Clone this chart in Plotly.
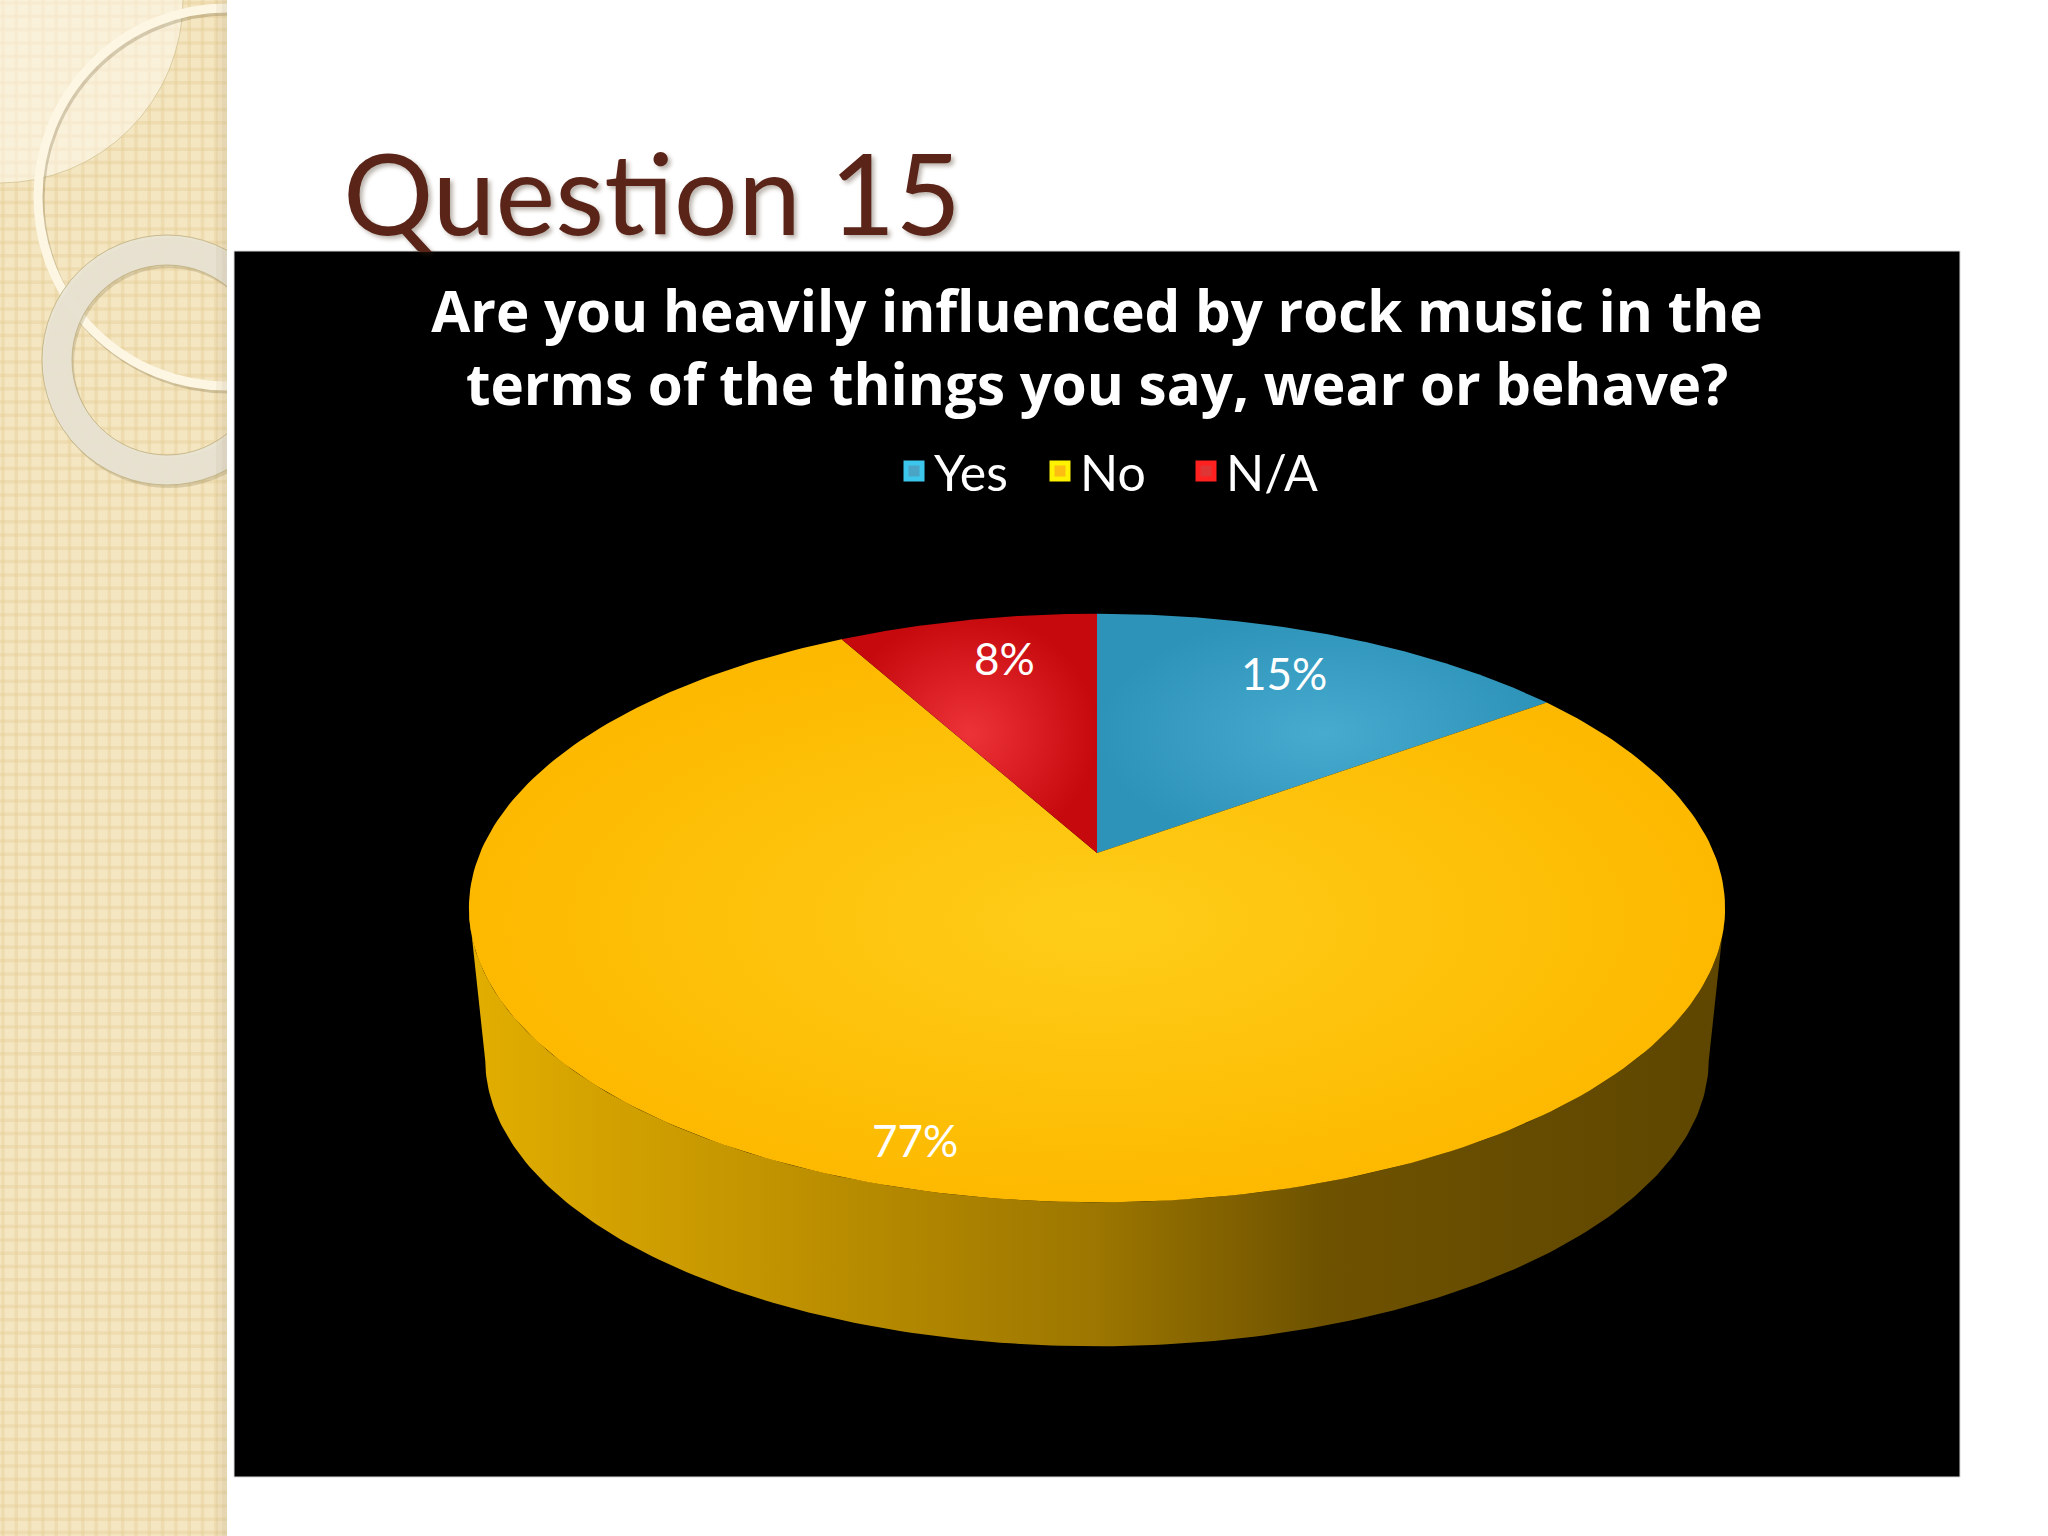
import numpy as np
import plotly.graph_objects as go

# ---- data -----------------------------------------------------------------
categories = ["Yes", "No", "N/A"]
values = [15, 77, 8]
slide_title = "Question 15"
chart_title = "Are you heavily influenced by rock music in the<br>terms of the things you say, wear or behave?"

# ---- style ----------------------------------------------------------------
FONT = "Lato"
legend_inner = ["#4aa4c6", "#fdbd12", "#e03535"]
legend_outer = ["#3cc6ec", "#fff200", "#ff2020"]
slice_center = ["#47abd0", "#fecd18", "#ee3338"]
slice_edge = ["#2e93b8", "#fdb900", "#c5090d"]
label_nudge = [(-5, -6), (-50, 16), (11, -9)]

# perspective pie geometry (paper pixels)
CX, CY, RX, RY, P = 1097, 853, 617, 284, 0.187
DEPTH, BASE_SCALE = 153, 0.974


def project(theta_deg, scale=1.0, shift=0.0, r=1.0):
    t = np.radians(theta_deg)
    w = 1 + P * np.cos(t)
    return (CX + scale * r * RX * np.sin(t) / w,
            CY + shift - scale * r * RY * np.cos(t) / w)


share = np.array(values, dtype=float) / sum(values) * 360
ends = np.cumsum(share)
starts = ends - share

fig = go.Figure()

# side wall of the pie
side_t = np.linspace(101, 259, 200)
tx, ty = project(side_t)
bx, by = project(side_t[::-1], BASE_SCALE, DEPTH)
fig.add_trace(go.Scatter(
    x=np.r_[tx, bx], y=np.r_[ty, by], mode="lines", fill="toself",
    line=dict(width=0, color="#a07800"), showlegend=False, hoverinfo="skip",
    fillgradient=dict(type="horizontal", colorscale=[
        [0, "#e2ae00"], [0.25, "#c09200"], [0.5, "#9c7600"],
        [0.68, "#6e5200"], [1, "#5e4600"]]),
))

# top slices, computed from the values
for i, name in enumerate(categories):
    t = np.linspace(starts[i], ends[i], 240)
    x, y = project(t)
    fig.add_trace(go.Scatter(
        x=np.r_[CX, x, CX], y=np.r_[CY, y, CY], mode="lines", fill="toself",
        line=dict(width=0, color=slice_edge[i]), showlegend=False, hoverinfo="skip",
        fillgradient=dict(type="radial", colorscale=[[0, slice_center[i]], [1, slice_edge[i]]]),
    ))

# legend entries
for i, name in enumerate(categories):
    fig.add_trace(go.Scatter(
        x=[None], y=[None], name=name, mode="markers",
        marker=dict(symbol="square", size=22, color=legend_inner[i],
                    line=dict(width=5, color=legend_outer[i])),
    ))

# percentage labels placed from slice mid-angles
annotations = []
for i, v in enumerate(values):
    mx, my = project((starts[i] + ends[i]) / 2, r=0.8)
    annotations.append(dict(
        x=mx + label_nudge[i][0], y=my + label_nudge[i][1],
        xref="x", yref="y", text=f"{v}%", showarrow=False,
        font=dict(family=FONT, size=44, color="white")))

annotations.append(dict(
    x=341, y=191, xref="x", yref="y", xanchor="left", yanchor="middle",
    text=slide_title, showarrow=False,
    font=dict(family=FONT, size=113, color="#5a2418",
              shadow="3px 3px 4px rgba(60,40,20,0.35)")))

# ---- slide decoration -------------------------------------------------------
STRIP = 227
shapes = [dict(type="rect", x0=0, x1=STRIP, y0=0, y1=1536,
               fillcolor="#f4e6c1", line_width=0)]
for k in np.arange(3, 1536, 13.3):
    shapes.append(dict(type="line", x0=0, x1=STRIP, y0=k, y1=k,
                       line=dict(color="rgba(226,200,140,0.3)", width=3.5)))
for k in np.arange(3, STRIP, 13.3):
    shapes.append(dict(type="line", x0=k, x1=k, y0=0, y1=1536,
                       line=dict(color="rgba(226,200,140,0.3)", width=3.5)))


def circle(cx, cy, r, **kw):
    return dict(type="circle", x0=cx - r, x1=cx + r, y0=cy - r, y1=cy + r, **kw)


shapes += [
    circle(0, 0, 183, fillcolor="rgba(255,250,238,0.55)",
           line=dict(color="rgba(205,190,140,0.7)", width=1)),
    circle(229, 200, 189, line=dict(color="rgba(120,100,60,0.28)", width=9)),
    circle(227, 197, 189, line=dict(color="#fdf6e3", width=9)),
    circle(169, 363, 110, line=dict(color="rgba(120,100,60,0.22)", width=30)),
    circle(167, 360, 110, line=dict(color="rgba(232,227,212,0.93)", width=30)),
    circle(167, 360, 125, line=dict(color="rgba(190,175,125,0.8)", width=1)),
    circle(167, 360, 95, line=dict(color="rgba(190,175,125,0.8)", width=1)),
    dict(type="rect", x0=216, x1=222, y0=0, y1=1536,
         fillcolor="rgba(150,130,90,0.07)", line_width=0),
    dict(type="rect", x0=222, x1=STRIP, y0=0, y1=1536,
         fillcolor="rgba(150,130,90,0.14)", line_width=0),
    dict(type="rect", x0=STRIP, x1=2048, y0=0, y1=1536,
         fillcolor="white", line_width=0),
    dict(type="rect", x0=234, x1=1960, y0=251, y1=1477,
         fillcolor="black", line=dict(color="#d8d8d8", width=1)),
]
for s in shapes:
    s["layer"] = "below"

fig.update_layout(
    width=2048, height=1536, margin=dict(l=0, r=0, t=0, b=0),
    paper_bgcolor="white", plot_bgcolor="white",
    xaxis=dict(range=[0, 2048], visible=False, fixedrange=True),
    yaxis=dict(range=[1536, 0], visible=False, fixedrange=True),
    title=dict(text=chart_title, x=1097 / 2048, xanchor="center", y=1 - 348 / 1536,
               yanchor="middle", font=dict(family="Open Sans", size=56.5, color="white", weight=700),
               yref="paper"),
    legend=dict(orientation="h", x=894 / 2048, y=1 - 432 / 1536, xanchor="left", yanchor="top",
                font=dict(family=FONT, size=50, color="white"), bgcolor="rgba(0,0,0,0)",
                entrywidth=101, entrywidthmode="pixels",
                itemclick=False, itemdoubleclick=False),
    shapes=shapes, annotations=annotations, hovermode=False,
)
fig.layout.title.yref = "container"
fig.layout.title.y = 1 - 332 / 1536

fig.write_html("out.html", config=dict(displayModeBar=False),
               post_script="document.body.style.margin='0';document.body.style.overflow='hidden';")
